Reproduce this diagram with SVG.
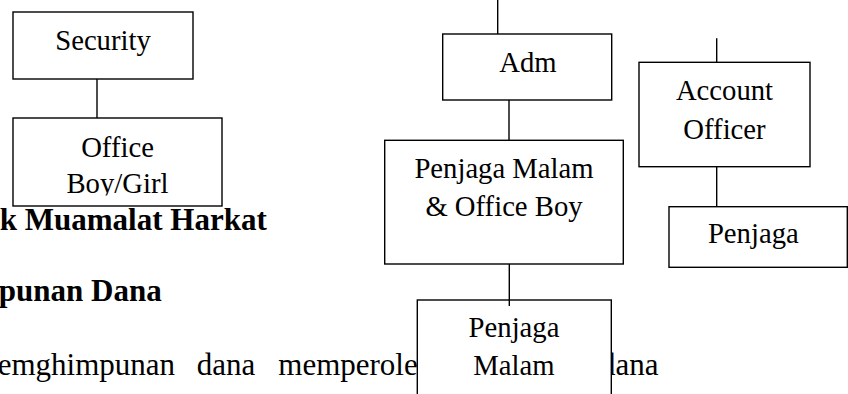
<svg xmlns="http://www.w3.org/2000/svg" width="848" height="394" viewBox="0 0 848 394">
<style>
.box{fill:#fff;stroke:#000;stroke-width:1.4}
.lbl{font-family:"Liberation Serif","Times New Roman",serif;font-size:28.7px;fill:#000;text-anchor:middle}
.body{font-family:"Liberation Serif","Times New Roman",serif;font-size:31px;fill:#000}
.head{font-family:"Liberation Serif","Times New Roman",serif;font-size:31px;font-weight:bold;fill:#000;text-anchor:end}
.con{stroke:#000;stroke-width:1.4;fill:none}
</style>
<defs>
<clipPath id="clipOffice"><rect x="13" y="118" width="209" height="77.5"/></clipPath>
</defs>
<rect width="848" height="394" fill="#fff"/>
<g id="page-text">
<text class="head" x="266.7" y="230">k Muamalat Harkat</text>
<text class="head" x="161.7" y="301">punan Dana</text>
<text class="body" y="375"><tspan x="175" text-anchor="end">emghimpunan</tspan><tspan x="196.7">dana</tspan><tspan x="278.3">memperoleh</tspan><tspan x="600">dana</tspan></text>
</g>
<g id="security">
<rect class="box" x="13" y="12" width="180" height="67"/>
<text class="lbl" x="103" y="50">Security</text>
</g>
<g id="office-boy-girl">
<rect class="box" x="13" y="118" width="209" height="88"/>
<g clip-path="url(#clipOffice)">
<text class="lbl" x="117.5" y="157">Office</text>
<text class="lbl" x="117.5" y="193.3">Boy/Girl</text>
</g>
</g>
<g id="adm">
<rect class="box" x="442.7" y="34" width="169" height="66"/>
<text class="lbl" x="528" y="71.7">Adm</text>
</g>
<g id="penjaga-malam-office-boy">
<rect class="box" x="384.7" y="140.3" width="238.6" height="123.7"/>
<text class="lbl" x="504" y="177.7">Penjaga Malam</text>
<text class="lbl" x="504" y="216">&amp; Office Boy</text>
</g>
<g id="penjaga-malam">
<rect class="box" x="417.3" y="300" width="194" height="110"/>
<text class="lbl" x="514" y="336.7">Penjaga</text>
<text class="lbl" x="514" y="375">Malam</text>
</g>
<g id="account-officer">
<rect class="box" x="639" y="62.3" width="171" height="104.4"/>
<text class="lbl" x="724.5" y="100">Account</text>
<text class="lbl" x="724.5" y="139">Officer</text>
</g>
<g id="penjaga">
<rect class="box" x="669" y="206.7" width="178.3" height="60.6"/>
<text class="lbl" x="753.3" y="243.3">Penjaga</text>
</g>
<g id="connectors">
<line class="con" x1="97" y1="79" x2="97" y2="118"/>
<line class="con" x1="497.7" y1="0" x2="497.7" y2="34"/>
<line class="con" x1="509" y1="100" x2="509" y2="140.3"/>
<line class="con" x1="509.3" y1="264" x2="509.3" y2="306"/>
<line class="con" x1="716.7" y1="38.3" x2="716.7" y2="62.3"/>
<line class="con" x1="716.7" y1="166.7" x2="716.7" y2="206.7"/>
</g>
</svg>
